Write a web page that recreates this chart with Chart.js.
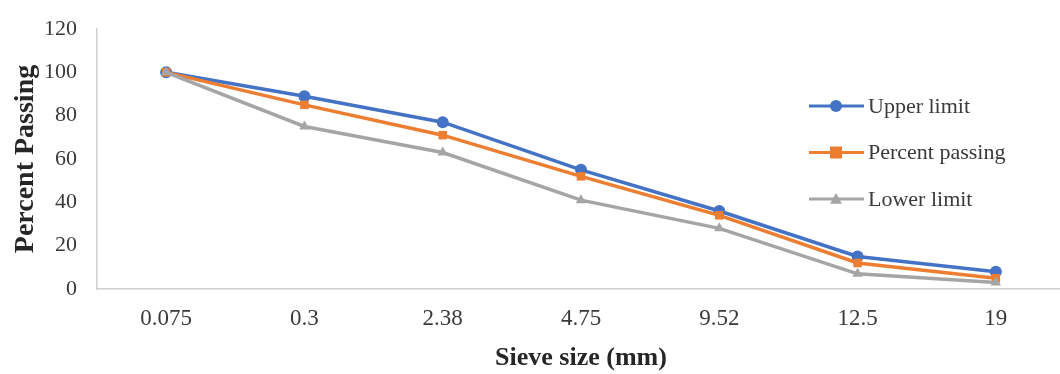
<!DOCTYPE html>
<html>
<head>
<meta charset="utf-8">
<script src="https://cdn.jsdelivr.net/npm/chart.js@4"></script>
<style>
	html, body { margin: 0; padding: 0; background: #fff; overflow: hidden; }
	#wrap { width: 1060px; height: 374px; overflow: hidden; }
</style>
</head>
<body>
<div id="wrap"><canvas id="lineOne" width="1071" height="374"></canvas></div>
<script>
const sieveSizes = ["0.075", "0.3", "2.38", "4.75", "9.52", "12.5", "19"];
const upperLimit = [100, 89, 77, 55, 36, 15, 8];
const percentPassing = [100, 85, 71, 52, 34, 12, 5];
const lowerLimit = [100, 75, 63, 41, 28, 7, 3];
const yTicks = [0, 20, 40, 60, 80, 100, 120];

const serif = "'Liberation Serif', 'Times New Roman', serif";
const textColor = "#3a3a3a";

// legend drawn inside the plot, to the right, like the original figure
const sideLegend = {
	id: "sideLegend",
	afterDraw(chart) {
		const ctx = chart.ctx;
		ctx.save();
		ctx.font = "22px " + serif;
		ctx.textBaseline = "middle";
		chart.data.datasets.forEach((ds, i) => {
			const y = 106 + i * 46.5;
			ctx.strokeStyle = ds.borderColor;
			ctx.lineWidth = 3;
			ctx.beginPath();
			ctx.moveTo(809, y);
			ctx.lineTo(864, y);
			ctx.stroke();
			ctx.fillStyle = ds.borderColor;
			const r = ds.pointRadius;
			ctx.beginPath();
			if (ds.pointStyle === "circle") {
				ctx.arc(836, y, r, 0, Math.PI * 2);
			} else if (ds.pointStyle === "rect") {
				ctx.rect(836 - r, y - r, r * 2, r * 2);
			} else {
				ctx.moveTo(836, y - r);
				ctx.lineTo(836 + r, y + r * 0.8);
				ctx.lineTo(836 - r, y + r * 0.8);
				ctx.closePath();
			}
			ctx.fill();
			ctx.fillStyle = textColor;
			ctx.fillText(ds.label, 868, y + 1);
		});
		ctx.restore();
	}
};

new Chart(document.getElementById("lineOne"), {
	type: "line",
	data: {
		labels: sieveSizes,
		datasets: [{
			label: "Upper limit",
			data: upperLimit,
			borderColor: "#4472C4",
			backgroundColor: "#4472C4",
			pointStyle: "circle",
			pointRadius: 6,
			order: 3
		},
		{
			label: "Percent passing",
			data: percentPassing,
			borderColor: "#ED7D31",
			backgroundColor: "#ED7D31",
			pointStyle: "rect",
			pointRadius: 6,
			order: 2
		},
		{
			label: "Lower limit",
			data: lowerLimit,
			borderColor: "#A5A5A5",
			backgroundColor: "#A5A5A5",
			pointStyle: "triangle",
			pointRadius: 6,
			order: 1
		}]
	},
	options: {
		responsive: false,
		animation: false,
		elements: {
			line: { borderWidth: 3.5, tension: 0 },
			point: { borderWidth: 0 }
		},
		layout: { padding: { top: 29, right: 1, left: 0, bottom: 0 } },
		plugins: {
			legend: { display: false },
			tooltip: { enabled: false }
		},
		scales: {
			x: {
				offset: true,
				grid: { display: false, drawTicks: false },
				border: { color: "#d0d0d0", width: 1.5 },
				ticks: { color: textColor, font: { family: serif, size: 23 }, padding: 16 },
				title: {
					display: true,
					text: "Sieve size (mm)",
					color: "#262626",
					font: { family: serif, size: 26, weight: "bold" },
					padding: { top: 0, bottom: 0 }
				},
				afterFit: s => { s.height = 85; }
			},
			y: {
				min: 0,
				max: 120,
				afterBuildTicks: s => { s.ticks = yTicks.map(v => ({ value: v })); },
				grid: { display: false, drawTicks: false },
				border: { color: "#d0d0d0", width: 1.5 },
				ticks: { color: textColor, font: { family: serif, size: 22 }, padding: 20 },
				title: {
					display: true,
					text: "Percent Passing",
					color: "#262626",
					font: { family: serif, size: 28, weight: "bold" },
					padding: { top: 9, bottom: 0 }
				},
				afterFit: s => {
					s.width = 97;
					s.paddingTop = 0;
					s.paddingBottom = 0;
				}
			}
		}
	},
	plugins: [sideLegend]
});
</script>
</body>
</html>
